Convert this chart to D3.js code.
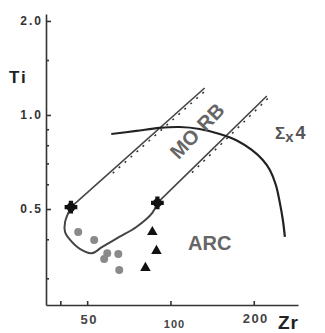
<!DOCTYPE html>
<html>
<head>
<meta charset="utf-8">
<script src="https://cdn.jsdelivr.net/npm/d3@7"></script>
<style>
  body { margin: 0; background: #fff; }
  text { font-family: "Liberation Sans", Arial, sans-serif; }
</style>
</head>
<body>
<script>
// Ti (%) vs Zr (ppm), both axes log
var yMajor = [2.0, 1.0, 0.5];
var yMajorLabels = ["2.0", "1.0", "0.5"];
var yMinor = [1.5, 0.9, 0.8, 0.7, 0.6, 0.4, 0.3];
var xTicks = [40, 50, 100, 200];
var xLabels = ["50", "100", "200"];
var xLabelValues = [50, 100, 200];

// MORB field: two parallel boundaries joined by a bend at the low end
var morbUpper = [[43.7, 0.507], [132.9, 1.22]];
var morbBend = [[43.7, 0.507], [41.6, 0.454], [41.6, 0.422], [43.4, 0.398], [47.2, 0.372],
  [52.0, 0.361], [56.7, 0.378], [65.3, 0.407], [75.3, 0.438], [86.0, 0.486], [89.7, 0.523]];
var morbLower = [[89.7, 0.523], [223, 1.15]];

// fractionation trend, labelled Σx4
var sigmaCurve = [[61.1, 0.869], [75.3, 0.889], [91.2, 0.909], [107.8, 0.915], [127.4, 0.902],
  [150.6, 0.869], [175.0, 0.826], [196.7, 0.773], [215.6, 0.718], [228.7, 0.667],
  [240.4, 0.597], [248.5, 0.523], [254.8, 0.461], [259.1, 0.407]];

// samples [Zr, Ti]
var circles = [[46.4, 0.422], [53.0, 0.398], [59.1, 0.361], [57.6, 0.346], [64.8, 0.359], [65.3, 0.319]];
var triangles = [[86.0, 0.422], [89.0, 0.367], [81.2, 0.324]];
var crosses = [[43.7, 0.507], [89.7, 0.523]];

var w = 325;
var h = 333;

var svg = d3.select("body")
  .append("svg")
  .attr("width", w)
  .attr("height", h);

var x = d3.scaleLog().domain([35.5, 289]).range([46, 298]);
var y = d3.scaleLog().domain([0.2464, 2.105]).range([305, 14]);

// y axis, ticks pointing inward
var yAxis = svg.append("g")
  .attr("transform", "translate(46,0)")
  .call(d3.axisLeft(y)
    .tickValues(yMajor)
    .tickSizeInner(-5)
    .tickSizeOuter(0)
    .tickPadding(5)
    .tickFormat(function(d, i) { return yMajorLabels[i]; }));
svg.append("g")
  .attr("transform", "translate(46,0)")
  .call(d3.axisLeft(y).tickValues(yMinor).tickSizeInner(-3).tickSizeOuter(0).tickFormat(""))
  .select(".domain").remove();

// x axis
var xAxis = svg.append("g")
  .attr("transform", "translate(0,305)")
  .call(d3.axisBottom(x)
    .tickValues(xTicks)
    .tickSizeInner(-4)
    .tickSizeOuter(0)
    .tickFormat(""));

svg.selectAll(".domain").attr("stroke", "#333").attr("stroke-width", 1.6);
svg.selectAll(".tick line").attr("stroke", "#333").attr("stroke-width", 1.6);

yAxis.selectAll("text")
  .attr("font-size", "12px")
  .attr("font-weight", "bold")
  .attr("letter-spacing", "2px")
  .attr("fill", "#333")
  .attr("x", -3);

svg.selectAll(".xlab")
  .data(xLabelValues)
  .enter()
  .append("text")
  .attr("class", "xlab")
  .attr("x", function(d) { return x(d) + (d == 100 ? 4 : 2); })
  .attr("y", function(d) { return d == 100 ? 328 : (d == 200 ? 323 : 324); })
  .attr("text-anchor", "middle")
  .attr("font-size", function(d) { return d == 100 ? "11px" : "13px"; })
  .attr("font-weight", "bold")
  .attr("letter-spacing", function(d) { return d == 100 ? "1px" : "1.5px"; })
  .attr("fill", "#444")
  .text(function(d, i) { return xLabels[i]; });

svg.append("text")
  .attr("x", 9)
  .attr("y", 83)
  .attr("font-size", "17px")
  .attr("font-weight", "bold")
  .attr("letter-spacing", "2px")
  .attr("fill", "#222")
  .text("Ti");

svg.append("text")
  .attr("x", 278)
  .attr("y", 329)
  .attr("font-size", "19px")
  .attr("font-weight", "bold")
  .attr("letter-spacing", "1px")
  .attr("fill", "#222")
  .text("Zr");

// field lines
var straight = d3.line()
  .x(function(d) { return x(d[0]); })
  .y(function(d) { return y(d[1]); });
var smooth = d3.line()
  .x(function(d) { return x(d[0]); })
  .y(function(d) { return y(d[1]); })
  .curve(d3.curveCatmullRom);

[morbUpper, morbLower].forEach(function(seg) {
  svg.append("path")
    .attr("d", straight(seg))
    .attr("fill", "none")
    .attr("stroke", "#444")
    .attr("stroke-width", 1.6);
  // hachure on the outer side of the upper part
  var ax = x(seg[0][0]), ay = y(seg[0][1]), bx = x(seg[1][0]), by = y(seg[1][1]);
  var dx = bx - ax, dy = by - ay, len = Math.sqrt(dx * dx + dy * dy);
  var nx = -dy / len * 2.5, ny = dx / len * 2.5;
  svg.append("line")
    .attr("x1", ax + dx * 0.3 + nx).attr("y1", ay + dy * 0.3 + ny)
    .attr("x2", bx + nx).attr("y2", by + ny)
    .attr("stroke", "#333")
    .attr("stroke-width", 1.5)
    .attr("stroke-dasharray", "2,6");
});

svg.append("path")
  .attr("d", smooth(morbBend))
  .attr("fill", "none")
  .attr("stroke", "#444")
  .attr("stroke-width", 2);

svg.append("path")
  .attr("d", smooth(sigmaCurve))
  .attr("fill", "none")
  .attr("stroke", "#222")
  .attr("stroke-width", 2.2);

// samples
svg.selectAll(".dot")
  .data(circles)
  .enter()
  .append("circle")
  .attr("class", "dot")
  .attr("cx", function(d) { return x(d[0]); })
  .attr("cy", function(d) { return y(d[1]); })
  .attr("r", 4)
  .attr("fill", "#8a8a8a");

svg.selectAll(".tri")
  .data(triangles)
  .enter()
  .append("path")
  .attr("class", "tri")
  .attr("d", d3.symbol().type(d3.symbolTriangle).size(48))
  .attr("transform", function(d) { return "translate(" + x(d[0]) + "," + y(d[1]) + ")"; })
  .attr("fill", "#111");

svg.selectAll(".crs")
  .data(crosses)
  .enter()
  .append("g")
  .attr("class", "crs")
  .attr("transform", function(d) { return "translate(" + x(d[0]) + "," + y(d[1]) + ")"; })
  .each(function() {
    var g = d3.select(this);
    g.append("circle").attr("r", 4.5).attr("fill", "#111");
    g.append("path").attr("d", d3.symbol().type(d3.symbolCross).size(90)).attr("fill", "#111");
  });

// field labels
svg.append("text")
  .attr("transform", "translate(197,131) rotate(-46)")
  .attr("text-anchor", "middle")
  .attr("dy", "0.35em")
  .attr("font-size", "20px")
  .attr("font-weight", "bold")
  .attr("fill", "#666")
  .text("MO")
  .append("tspan")
  .attr("dx", 7)
  .text("RB");

svg.append("text")
  .attr("x", 188)
  .attr("y", 250)
  .attr("font-size", "20px")
  .attr("font-weight", "bold")
  .attr("fill", "#666")
  .text("ARC");

var sig = svg.append("text")
  .attr("x", 275)
  .attr("y", 139)
  .attr("font-size", "17px")
  .attr("font-weight", "bold")
  .attr("fill", "#555")
  .text("Σ");
sig.append("tspan").attr("dy", 3).attr("font-size", "15px").text("x");
sig.append("tspan").attr("dy", -3).attr("dx", 2).attr("font-size", "18px").text("4");
</script>
</body>
</html>
